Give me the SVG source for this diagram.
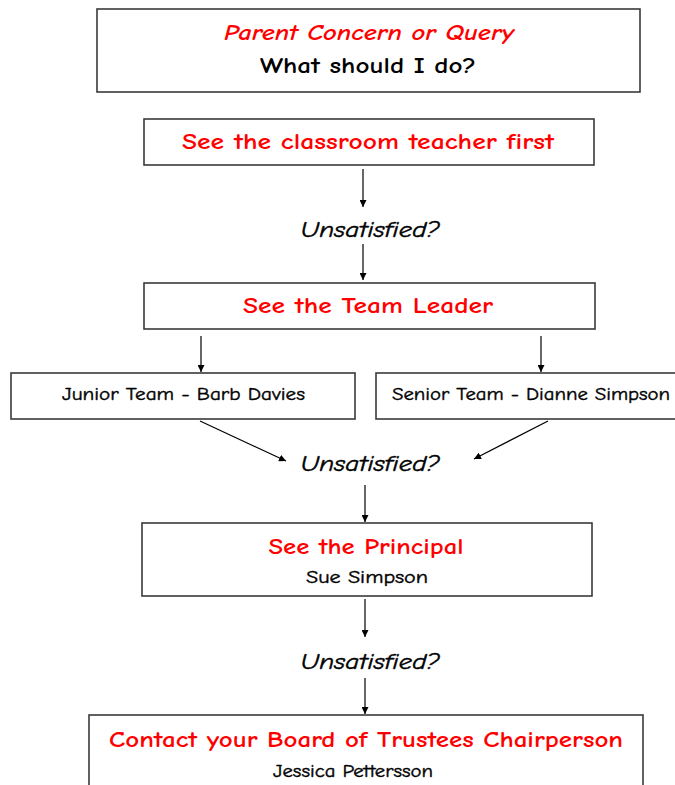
<svg xmlns="http://www.w3.org/2000/svg" width="675" height="785" viewBox="0 0 675 785">
<defs>
<marker id="ah" viewBox="0 0 10 10" refX="10" refY="5" markerWidth="7" markerHeight="7" markerUnits="userSpaceOnUse" orient="auto">
<path d="M0,0 L10,5 L0,10 z" fill="#000"/>
</marker>
<style>
.box{fill:#fff;stroke:#3a3a3a;stroke-width:1.6}
.t{font-family:"Comic Sans MS","Comic Neue","DejaVu Sans",sans-serif;text-anchor:middle}
.red{fill:#ff0000;font-weight:bold;font-size:23px}
.redi{fill:#ff0000;font-style:italic;font-weight:bold;font-size:22px}
.blk{fill:#000;font-weight:bold;font-size:23px}
.q{fill:#000;font-style:italic;font-size:21px;stroke:#000;stroke-width:0.45}
.n{fill:#000;font-size:18px;stroke:#000;stroke-width:0.4}
.c{stroke:#000;stroke-width:1.2;fill:none;marker-end:url(#ah)}
</style>
</defs>
<rect width="675" height="785" fill="#fff"/>
<g id="connectors">
<line class="c" x1="363" y1="169" x2="363" y2="207"/>
<line class="c" x1="363" y1="244" x2="363" y2="280"/>
<line class="c" x1="201" y1="336" x2="201" y2="372"/>
<line class="c" x1="541" y1="336" x2="541" y2="372"/>
<line class="c" x1="200" y1="421" x2="286" y2="461"/>
<line class="c" x1="548" y1="421" x2="474" y2="459"/>
<line class="c" x1="365" y1="485" x2="365" y2="522"/>
<line class="c" x1="365" y1="599" x2="365" y2="637"/>
<line class="c" x1="365" y1="678" x2="365" y2="714"/>
</g>
<g id="start">
<rect class="box" x="97" y="9" width="543" height="83"/>
<text class="t redi" x="369" y="40" textLength="290" lengthAdjust="spacingAndGlyphs">Parent Concern or Query</text>
<text class="t blk" x="368" y="73" textLength="216" lengthAdjust="spacingAndGlyphs">What should I do?</text>
</g>
<g id="teacher">
<rect class="box" x="144" y="119" width="450" height="46"/>
<text class="t red" x="368" y="149" textLength="372" lengthAdjust="spacingAndGlyphs">See the classroom teacher first</text>
</g>
<g id="q1">
<text class="t q" x="370" y="237" textLength="139" lengthAdjust="spacingAndGlyphs">Unsatisfied?</text>
</g>
<g id="teamleader">
<rect class="box" x="144" y="283" width="451" height="46"/>
<text class="t red" x="368" y="313" textLength="250" lengthAdjust="spacingAndGlyphs">See the Team Leader</text>
</g>
<g id="junior">
<rect class="box" x="11" y="373" width="344" height="46"/>
<text class="t n" x="183.5" y="400" textLength="243" lengthAdjust="spacingAndGlyphs">Junior Team - Barb Davies</text>
</g>
<g id="senior">
<rect class="box" x="376" y="373" width="310" height="46"/>
<text class="t n" x="531" y="400" textLength="278" lengthAdjust="spacingAndGlyphs">Senior Team - Dianne Simpson</text>
</g>
<g id="q2">
<text class="t q" x="370" y="471" textLength="139" lengthAdjust="spacingAndGlyphs">Unsatisfied?</text>
</g>
<g id="principal">
<rect class="box" x="142" y="523" width="450" height="73"/>
<text class="t red" x="366" y="554" textLength="195" lengthAdjust="spacingAndGlyphs">See the Principal</text>
<text class="t n" x="367" y="583" textLength="122" lengthAdjust="spacingAndGlyphs">Sue Simpson</text>
</g>
<g id="q3">
<text class="t q" x="370" y="669" textLength="139" lengthAdjust="spacingAndGlyphs">Unsatisfied?</text>
</g>
<g id="board">
<rect class="box" x="89" y="715" width="554" height="80"/>
<text class="t red" x="366" y="747" textLength="514" lengthAdjust="spacingAndGlyphs">Contact your Board of Trustees Chairperson</text>
<text class="t n" x="353" y="777" textLength="160" lengthAdjust="spacingAndGlyphs">Jessica Pettersson</text>
</g>
</svg>
